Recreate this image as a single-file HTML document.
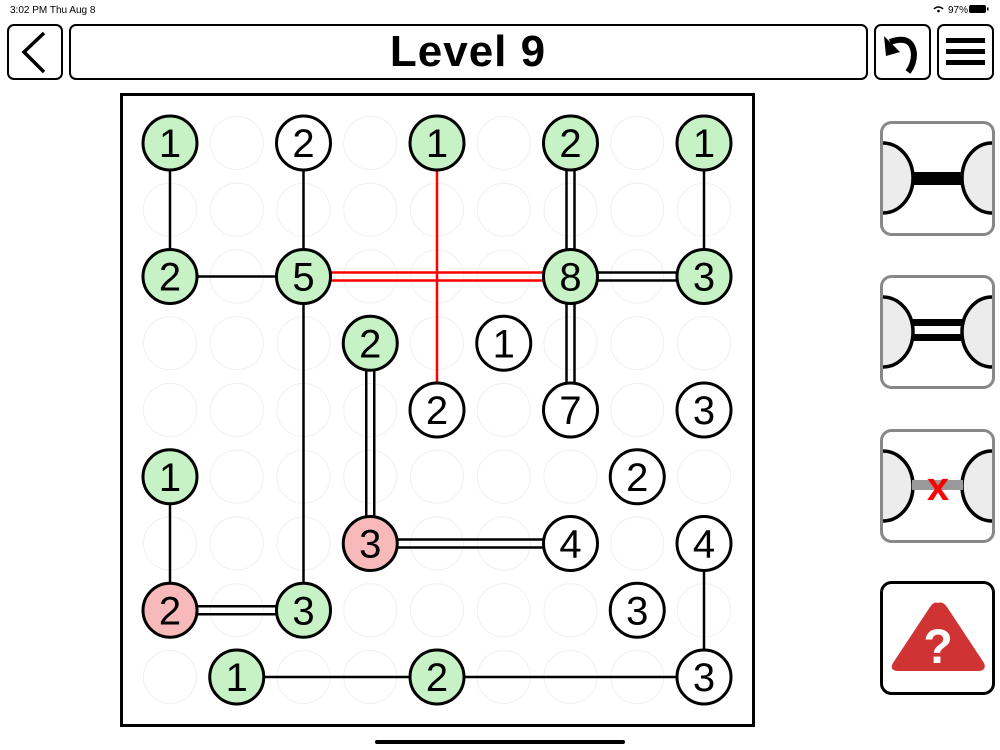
<!DOCTYPE html>
<html><head><meta charset="utf-8"><style>
html,body{margin:0;padding:0;background:#fff;width:1000px;height:750px;overflow:hidden}
svg{display:block}
</style></head><body>
<svg width="1000" height="750" viewBox="0 0 1000 750" xmlns="http://www.w3.org/2000/svg" font-family="Liberation Sans, sans-serif">
<defs>
<pattern id="g" x="136.6" y="109.6" width="66.75" height="66.75" patternUnits="userSpaceOnUse">
<circle cx="33.375" cy="33.375" r="26.5" fill="none" stroke="#efefef" stroke-width="1"/>
</pattern>
</defs>
<text x="10" y="13" font-size="10" fill="#000">3:02 PM  Thu Aug 8</text>
<text x="948" y="13" font-size="10" fill="#000">97%</text>
<path d="M934 9 a6 6 0 0 1 9 0" fill="none" stroke="#000" stroke-width="1.5"/>
<circle cx="938.5" cy="11" r="1.3" fill="#000"/>
<rect x="969" y="5" width="17" height="8" rx="2" fill="#000"/>
<rect x="987" y="7.5" width="1.5" height="3" fill="#000"/>
<rect x="8" y="25" width="54" height="54" rx="6" fill="#fff" stroke="#000" stroke-width="2"/>
<path d="M44 33 L24 52 L44 72" fill="none" stroke="#000" stroke-width="3.5"/>
<rect x="70" y="25" width="797" height="54" rx="6" fill="#fff" stroke="#000" stroke-width="2"/>
<text x="468" y="66" font-size="44" font-weight="bold" text-anchor="middle" fill="#000" font-family="Liberation Sans Narrow, Liberation Sans, sans-serif" letter-spacing="1">Level 9</text>
<rect x="875" y="25" width="55" height="54" rx="6" fill="#fff" stroke="#000" stroke-width="2"/>
<path d="M890 42 q22 -8 24 12 q0 10 -6 18" fill="none" stroke="#000" stroke-width="6"/>
<path d="M884 36 L900 52 L886 56 Z" fill="#000"/>
<rect x="938" y="25" width="55" height="54" rx="6" fill="#fff" stroke="#000" stroke-width="2"/>
<rect x="946" y="38" width="39" height="5" fill="#000"/>
<rect x="946" y="49" width="39" height="5" fill="#000"/>
<rect x="946" y="60" width="39" height="5" fill="#000"/>
<rect x="121.5" y="94.5" width="632" height="631" fill="#fff" stroke="#000" stroke-width="3"/>
<rect x="136" y="109" width="602" height="602" fill="url(#g)"/>
<g stroke="#000" stroke-width="2.5" fill="none">
<line x1="170" y1="143" x2="170" y2="276.5"/>
<line x1="303.5" y1="143" x2="303.5" y2="276.5"/>
<line x1="170" y1="276.5" x2="303.5" y2="276.5"/>
<line x1="303.5" y1="276.5" x2="303.5" y2="610.25"/>
<line x1="170" y1="476.75" x2="170" y2="610.25"/>
<line x1="704" y1="143" x2="704" y2="276.5"/>
<line x1="704" y1="543.5" x2="704" y2="677"/>
<line x1="236.75" y1="677" x2="704" y2="677"/>
<line x1="566.5" y1="143" x2="566.5" y2="410"/><line x1="574.5" y1="143" x2="574.5" y2="410"/>
<line x1="570.5" y1="272.5" x2="704" y2="272.5"/><line x1="570.5" y1="280.5" x2="704" y2="280.5"/>
<line x1="366.25" y1="343.25" x2="366.25" y2="543.5"/><line x1="374.25" y1="343.25" x2="374.25" y2="543.5"/>
<line x1="370.25" y1="539.5" x2="570.5" y2="539.5"/><line x1="370.25" y1="547.5" x2="570.5" y2="547.5"/>
<line x1="170" y1="606.25" x2="303.5" y2="606.25"/><line x1="170" y1="614.25" x2="303.5" y2="614.25"/>
</g>
<g stroke="#f00" stroke-width="2.5" fill="none">
<line x1="303.5" y1="272.5" x2="570.5" y2="272.5"/><line x1="303.5" y1="280.5" x2="570.5" y2="280.5"/>
<line x1="437" y1="143" x2="437" y2="410"/>
</g>
<g stroke="#000" stroke-width="3">
<circle cx="170" cy="143" r="27" fill="#c6f2c6"/>
<circle cx="303.5" cy="143" r="27" fill="#fff"/>
<circle cx="437" cy="143" r="27" fill="#c6f2c6"/>
<circle cx="570.5" cy="143" r="27" fill="#c6f2c6"/>
<circle cx="704" cy="143" r="27" fill="#c6f2c6"/>
<circle cx="170" cy="276.5" r="27" fill="#c6f2c6"/>
<circle cx="303.5" cy="276.5" r="27" fill="#c6f2c6"/>
<circle cx="570.5" cy="276.5" r="27" fill="#c6f2c6"/>
<circle cx="704" cy="276.5" r="27" fill="#c6f2c6"/>
<circle cx="370.25" cy="343.25" r="27" fill="#c6f2c6"/>
<circle cx="503.75" cy="343.25" r="27" fill="#fff"/>
<circle cx="437" cy="410" r="27" fill="#fff"/>
<circle cx="570.5" cy="410" r="27" fill="#fff"/>
<circle cx="704" cy="410" r="27" fill="#fff"/>
<circle cx="170" cy="476.75" r="27" fill="#c6f2c6"/>
<circle cx="637.25" cy="476.75" r="27" fill="#fff"/>
<circle cx="370.25" cy="543.5" r="27" fill="#f7b9b9"/>
<circle cx="570.5" cy="543.5" r="27" fill="#fff"/>
<circle cx="704" cy="543.5" r="27" fill="#fff"/>
<circle cx="170" cy="610.25" r="27" fill="#f7b9b9"/>
<circle cx="303.5" cy="610.25" r="27" fill="#c6f2c6"/>
<circle cx="637.25" cy="610.25" r="27" fill="#fff"/>
<circle cx="236.75" cy="677" r="27" fill="#c6f2c6"/>
<circle cx="437" cy="677" r="27" fill="#c6f2c6"/>
<circle cx="704" cy="677" r="27" fill="#fff"/>
</g>
<g font-size="40" text-anchor="middle" fill="#000">
<text x="170" y="157">1</text>
<text x="303.5" y="157">2</text>
<text x="437" y="157">1</text>
<text x="570.5" y="157">2</text>
<text x="704" y="157">1</text>
<text x="170" y="290.5">2</text>
<text x="303.5" y="290.5">5</text>
<text x="570.5" y="290.5">8</text>
<text x="704" y="290.5">3</text>
<text x="370.25" y="357.25">2</text>
<text x="503.75" y="357.25">1</text>
<text x="437" y="424">2</text>
<text x="570.5" y="424">7</text>
<text x="704" y="424">3</text>
<text x="170" y="490.75">1</text>
<text x="637.25" y="490.75">2</text>
<text x="370.25" y="557.5">3</text>
<text x="570.5" y="557.5">4</text>
<text x="704" y="557.5">4</text>
<text x="170" y="624.25">2</text>
<text x="303.5" y="624.25">3</text>
<text x="637.25" y="624.25">3</text>
<text x="236.75" y="691">1</text>
<text x="437" y="691">2</text>
<text x="704" y="691">3</text>
</g>
<g>
<rect x="881.5" y="122.5" width="112" height="112" rx="10" fill="#fff" stroke="#888" stroke-width="3"/>
<path d="M883 143 A30 35 0 0 1 883 213 Z" fill="#ececec"/><path d="M992 143 A30 35 0 0 0 992 213 Z" fill="#ececec"/>
<path d="M883 143 A30 35 0 0 1 883 213" fill="none" stroke="#000" stroke-width="3.5"/>
<path d="M992 143 A30 35 0 0 0 992 213" fill="none" stroke="#000" stroke-width="3.5"/>
<rect x="912" y="172" width="51" height="13" fill="#000"/>

<rect x="881.5" y="276.5" width="112" height="111" rx="10" fill="#fff" stroke="#888" stroke-width="3"/>
<path d="M883 297 A30 35 0 0 1 883 367 Z" fill="#ececec"/><path d="M992 297 A30 35 0 0 0 992 367 Z" fill="#ececec"/>
<path d="M883 297 A30 35 0 0 1 883 367" fill="none" stroke="#000" stroke-width="3.5"/>
<path d="M992 297 A30 35 0 0 0 992 367" fill="none" stroke="#000" stroke-width="3.5"/>
<rect x="912" y="319" width="51" height="7" fill="#000"/>
<rect x="912" y="334" width="51" height="7" fill="#000"/>

<rect x="881.5" y="430.5" width="112" height="111" rx="10" fill="#fff" stroke="#888" stroke-width="3"/>
<path d="M883 451 A30 35 0 0 1 883 521 Z" fill="#ececec"/><path d="M992 451 A30 35 0 0 0 992 521 Z" fill="#ececec"/>
<path d="M883 451 A30 35 0 0 1 883 521" fill="none" stroke="#000" stroke-width="3.5"/>
<path d="M992 451 A30 35 0 0 0 992 521" fill="none" stroke="#000" stroke-width="3.5"/>
<rect x="912" y="480" width="51" height="10" fill="#999"/>
<text x="938" y="500" font-size="40" font-weight="bold" text-anchor="middle" fill="#f00">x</text>

<rect x="881.5" y="582.5" width="112" height="111" rx="10" fill="#fff" stroke="#000" stroke-width="3"/>
<path d="M938 603 Q943 601 947 607 L984 663 Q987 670 979 671 L897 671 Q889 670 893 663 L930 607 Q934 601 938 603 Z" fill="#d03333"/>
<text x="938" y="663" font-size="48" font-weight="bold" text-anchor="middle" fill="#fff">?</text>
</g>
<rect x="375" y="740" width="250" height="4" rx="2" fill="#000"/>
</svg>
</body></html>
